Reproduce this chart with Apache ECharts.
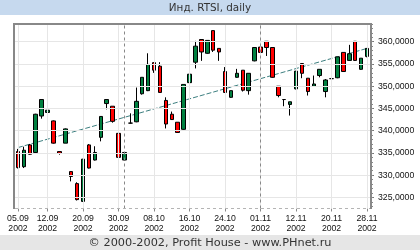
<!DOCTYPE html>
<html><head><meta charset="utf-8">
<script src="https://cdn.jsdelivr.net/npm/echarts@6/dist/echarts.min.js"></script>
<style>html,body{margin:0;padding:0;background:#fff}#c{width:420px;height:250px}</style>
</head><body><div id="c"></div>
<script>
// Trading days (2002)
const categories = [
 '05.09','06.09','09.09','10.09','11.09','12.09','13.09','16.09','17.09','18.09','19.09','20.09',
 '23.09','24.09','25.09','26.09','27.09','30.09',
 '01.10','02.10','03.10','04.10','07.10','08.10','09.10','10.10','11.10','14.10','15.10','16.10',
 '17.10','18.10','21.10','22.10','23.10','24.10','25.10','28.10','29.10','30.10','31.10',
 '01.11','04.11','05.11','06.11','08.11','11.11','12.11','13.11','14.11','15.11','18.11','19.11',
 '20.11','21.11','22.11','25.11','26.11','27.11','28.11'
];
const tickDays = ['05.09','12.09','20.09','30.09','08.10','16.10','24.10','01.11','12.11','20.11','28.11'];
const monthStarts = ['01.10','01.11'];
const yearLabel = '2002';
// [open, close, low, high]
const ohlc = [
 [335.3,331.7,331.5,335.9],[331.9,335.6,331.6,336.4],[336.8,334.7,334.6,337.0],[335.1,343.7,335.0,343.8],
 [343.3,347.0,342.7,347.0],[344.1,344.6,344.0,346.9],[342.2,337.2,337.1,342.3],[335.3,334.9,334.6,335.3],
 [337.2,340.4,337.2,340.5],[330.8,329.7,328.6,330.8],[328.1,324.5,324.3,328.4],[324.1,333.6,324.0,333.6],
 [336.8,331.6,331.5,337.0],[333.4,335.1,333.3,336.5],[338.5,343.2,337.6,343.2],[346.1,347.0,344.8,347.0],
 [345.5,342.1,341.8,345.5],[339.4,334.0,333.9,339.8],[333.4,335.1,333.3,335.2],[341.7,341.7,341.6,343.9],
 [342.0,346.6,341.9,349.7],[348.3,352.0,348.1,352.0],[349.0,354.9,348.9,357.4],[355.3,353.6,353.0,355.3],
 [354.5,348.6,348.5,355.4],[346.8,341.5,340.5,347.5],[343.7,342.5,342.4,344.3],[341.9,339.6,339.5,341.9],
 [340.3,350.4,340.2,350.4],[350.8,352.7,350.7,352.9],[355.4,359.0,354.0,360.2],[360.5,357.7,355.7,360.5],
 [357.4,360.3,357.3,360.3],[362.5,358.1,357.7,362.5],[358.5,357.7,355.7,358.5],[353.3,348.6,348.5,354.3],
 [347.5,349.0,347.4,349.0],[352.0,352.9,351.9,353.9],[353.6,349.1,348.8,353.6],[349.0,352.9,348.1,352.9],
 [355.7,358.7,355.6,358.7],[358.8,357.6,357.1,358.8],[360.1,358.7,356.8,360.1],[358.7,352.0,351.9,358.7],
 [350.0,347.9,347.5,350.0],[347.0,347.0,345.5,347.0],[345.9,346.5,343.4,346.5],[349.4,353.4,349.3,353.4],
 [355.1,352.9,351.8,355.1],[351.8,348.8,347.9,351.8],[350.0,350.5,349.9,352.4],[352.4,353.8,352.0,353.8],
 [348.8,351.4,347.5,351.6],[351.7,351.7,350.9,353.1],[351.9,356.6,351.8,356.6],[357.6,353.3,353.2,357.6],
 [355.8,357.3,355.7,359.3],[360.1,355.8,355.7,360.1],[353.8,356.3,353.7,356.3],[356.7,358.5,356.5,358.5]
];
const trendPoints = [[0,336.2],[59,358.5]];
const yTicks = [325,330,335,340,345,350,355,360];
const yTickLabels = ['325,0000','330,0000','335,0000','340,0000','345,0000','350,0000','355,0000','360,0000'];
const minorTicks = [];
for (let v = 323; v <= 364; v++) minorTicks.push(v);

const chart = echarts.init(document.getElementById('c'), null, {renderer:'canvas'});
const labelFont = {fontSize:8.7, fontFamily:'Liberation Sans', color:'#111'};
const isTick = (i, v) => tickDays.includes(v);
chart.setOption({
  animation:false,
  backgroundColor:'#fff',
  grid:{left:15, right:50, top:23.5, bottom:41.5, containLabel:false, outerBoundsMode:'none'},
  xAxis:{
    type:'category', data:categories, boundaryGap:true,
    axisLine:{show:false},
    axisTick:{show:true, alignWithLabel:true, length:3, interval:isTick, lineStyle:{color:'#888'}},
    axisLabel:Object.assign({interval:isTick, formatter:v => v + '\n' + yearLabel, lineHeight:10, margin:5}, labelFont),
    splitLine:{show:false}
  },
  yAxis:[{
    type:'value', min:322.5, max:364.1, position:'right', offset:1,
    axisLine:{show:false},
    axisTick:{show:true, customValues:yTicks, length:3, lineStyle:{color:'#777'}},
    axisLabel:Object.assign({customValues:yTicks, formatter:v => yTickLabels[yTicks.indexOf(v)], margin:7}, labelFont),
    splitLine:{show:false}
  },{
    type:'value', min:322.5, max:364.1, position:'right', offset:1,
    axisLine:{show:false}, axisLabel:{show:false}, splitLine:{show:false},
    axisTick:{show:true, customValues:minorTicks, length:2, lineStyle:{color:'#888'}}
  }],
  series:[
    {
      type:'line', data:trendPoints, symbol:'none', silent:true, z:2,
      lineStyle:{color:'#3d7f80', width:1, type:[5,2]},
      markLine:{
        silent:true, symbol:['none','none'], label:{show:false}, animation:false,
        lineStyle:{color:'#e6e6e6', width:1, type:'solid'},
        data:[].concat(
          tickDays.map(d => ({xAxis:categories.indexOf(d)})),
          yTicks.map(v => ({yAxis:v})),
          monthStarts.map(d => ({xAxis:categories.indexOf(d), lineStyle:{color:'#888', width:1, type:[3,3]}}))
        )
      }
    },
    {
      type:'candlestick', data:ohlc, barWidth:4, z:3,
      itemStyle:{color:'#008040', color0:'#ff0000', borderColor:'#000', borderColor0:'#000', borderColorDoji:'#000', borderWidth:1}
    }
  ],
  graphic:[
    {type:'rect', z:0, shape:{x:0, y:0, width:420, height:15}, style:{fill:'#c6d9ee'}},
    {type:'text', z:1, x:210, y:8, style:{text:'Инд. RTSI, daily', fontSize:10.4, fontFamily:'DejaVu Sans', fill:'#333', align:'center', verticalAlign:'middle'}},
    {type:'rect', z:0, shape:{x:0, y:235, width:420, height:15}, style:{fill:'#e6e6e6'}},
    {type:'text', z:1, x:210, y:243, style:{text:'© 2000-2002, Profit House - www.PHnet.ru', fontSize:11.3, fontFamily:'DejaVu Sans', fill:'#333', align:'center', verticalAlign:'middle'}},
    {type:'line', z:100, shape:{x1:13, y1:24, x2:372, y2:24}, style:{stroke:'#888', lineWidth:2}},
    {type:'line', z:100, shape:{x1:14, y1:23, x2:14, y2:209}, style:{stroke:'#888', lineWidth:2}},
    {type:'line', z:100, shape:{x1:371, y1:23, x2:371, y2:209}, style:{stroke:'#888', lineWidth:2}},
    {type:'line', z:100, shape:{x1:15, y1:208.5, x2:370, y2:208.5}, style:{stroke:'#b4b4b4', lineWidth:1, lineDash:[3,3]}}
  ]
});
</script>
</body></html>
